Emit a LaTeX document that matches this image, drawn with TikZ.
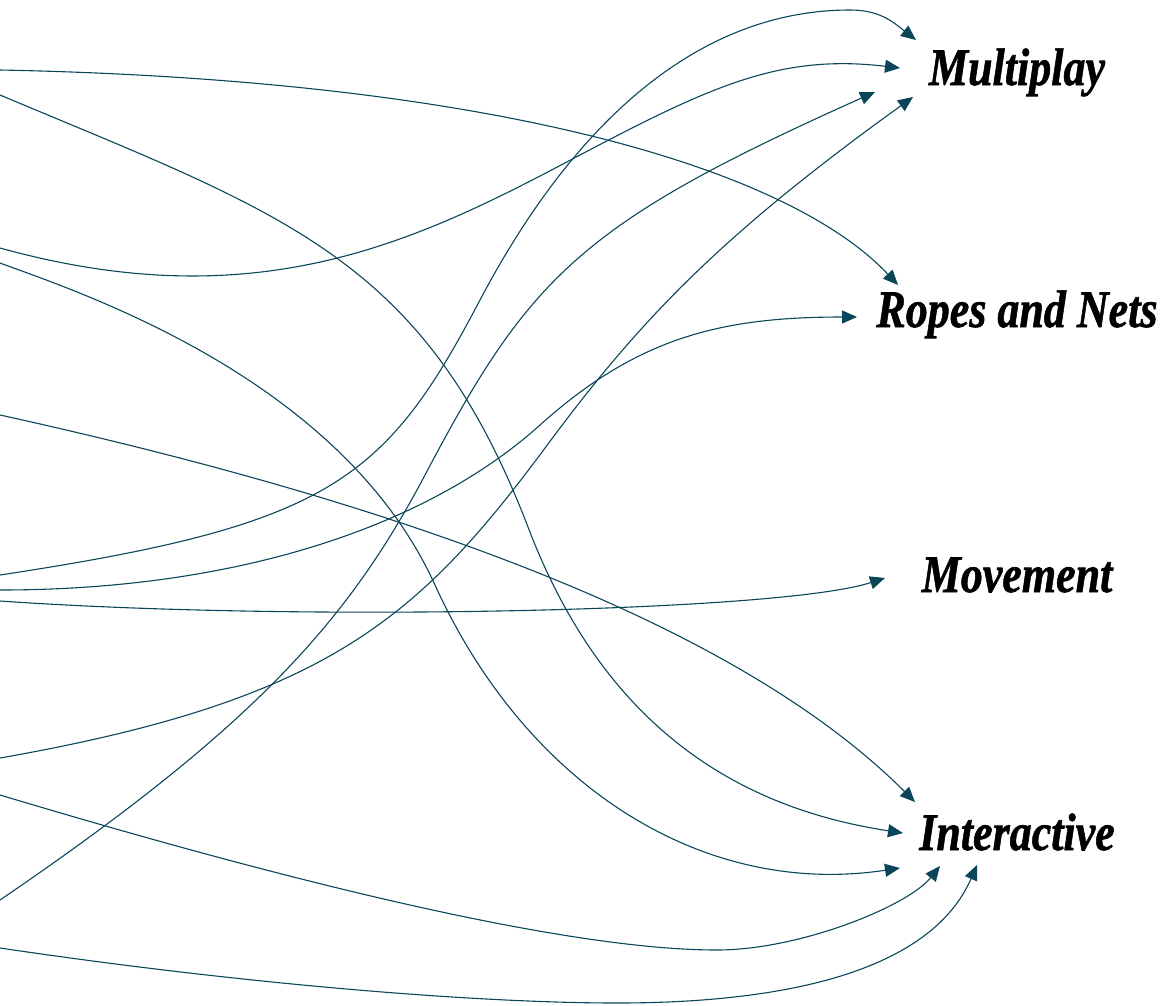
\documentclass[tikz,border=0pt]{standalone}
\usepackage{fontspec}
\setmainfont{Liberation Serif}
\newfontfamily\lblfont[FakeBold=1.2]{Liberation Serif}
\usetikzlibrary{arrows.meta,calc}
\definecolor{linkcol}{HTML}{0B4559}
\begin{document}
\begin{tikzpicture}[x=1pt,y=-1pt,
  link/.style={draw=linkcol, line width=1.1pt, -{Triangle[length=15pt,width=13pt]}},
  lbl/.style={anchor=base, inner sep=0pt, text=black, font=\lblfont\fontsize{44}{48}\selectfont\bfseries\itshape}]
\useasboundingbox (0,0) rectangle (1163,1005);
% labels
\node[lbl] (mp) at (1017,85) {\scalebox{1}[1.2]{Multiplay}};
\node[lbl] (rn) at (1017,327) {\scalebox{1}[1.2]{Ropes and Nets}};
\node[lbl] (mv) at (1017,592) {\scalebox{1}[1.2]{Movement}};
\node[lbl] (in) at (1017,850) {\scalebox{1}[1.2]{Interactive}};
% arrow tips near labels
\coordinate (mpF) at ($(mp.base)+(-101,-45)$);
\coordinate (mpC) at ($(mp.base)+(-117,-17)$);
\coordinate (mpK) at ($(mp.base)+(-142,7)$);
\coordinate (mpI) at ($(mp.base)+(-104,12)$);
\coordinate (rnA) at ($(rn.base)+(-119,-42)$);
\coordinate (rnG) at ($(rn.base)+(-160,-10)$);
\coordinate (mvH) at ($(mv.base)+(-132,-14)$);
\coordinate (inE) at ($(in.base)+(-102,-48)$);
\coordinate (inB) at ($(in.base)+(-114,-17)$);
\coordinate (inD) at ($(in.base)+(-117,18)$);
\coordinate (inJ) at ($(in.base)+(-77,16)$);
\coordinate (inL) at ($(in.base)+(-40,15)$);
% free ends at the left edge
\coordinate (sA) at (0,70);
\coordinate (sB) at (0,95);
\coordinate (sC) at (0,248);
\coordinate (sD) at (0,263);
\coordinate (sE) at (0,415);
\coordinate (sF) at (0,575);
\coordinate (sG) at (0,590);
\coordinate (sH) at (0,601);
\coordinate (sI) at (0,758);
\coordinate (sJ) at (0,795);
\coordinate (sK) at (0,900);
\coordinate (sL) at (0,948);
% connectors
\draw[link] (sA) .. controls (500,80) and (790,170) .. (rnA);
\draw[link] (sB) .. controls (283,214) and (424,256) .. (528,527) .. controls (592,695) and (705,803) .. (inB);
\draw[link] (sC) .. controls (260,320) and (420,240) .. (580,155) .. controls (713,85) and (781,54) .. (mpC);
\draw[link] (sD) .. controls (75,291) and (340,376) .. (435,585) .. controls (526,785) and (702,898) .. (inD);
\draw[link] (sE) .. controls (500,525) and (770,657) .. (inE);
\draw[link] (sF) .. controls (330,525) and (385,481) .. (480,300) .. controls (575,120) and (700,10) .. (850,10) .. controls (880,10) and (893,22) .. (mpF);
\draw[link] (sG) .. controls (240,590) and (429,525) .. (540,425) .. controls (637,338) and (720,317) .. (rnG);
\draw[link] (sH) .. controls (300,622) and (780,612) .. (mvH);
\draw[link] (sI) .. controls (330,700) and (420,617) .. (548,444) .. controls (640,320) and (720,236) .. (mpI);
\draw[link] (sJ) .. controls (330,894) and (580,950) .. (717,950) .. controls (800,950) and (908,906) .. (inJ);
\draw[link] (sK) .. controls (260,723) and (350,617) .. (425,475) .. controls (530,276) and (580,224) .. (mpK);
\draw[link] (sL) .. controls (250,985) and (480,1003) .. (617,1003) .. controls (800,1003) and (933,966) .. (inL);
\end{tikzpicture}
\end{document}
